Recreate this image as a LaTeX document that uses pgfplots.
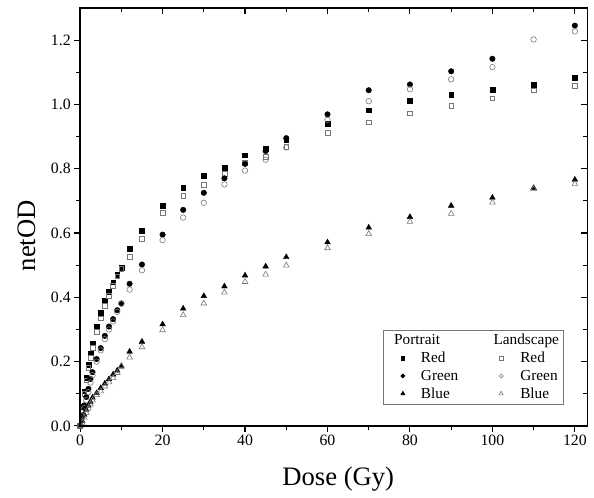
\documentclass[border=0pt]{standalone}
\usepackage{fontspec}
\setmainfont{Liberation Serif}
\usepackage{pgfplots}
\usepackage{pgfplotstable}
\pgfplotsset{compat=1.18}
\pgfplotsset{
  lleg/.style={legend image code/.code={\draw[##1,mark size=#1] plot coordinates {(0bp,0bp)};}},
  pleg/.style={legend image code/.code={\path (-16bp,0bp); \draw[##1,mark size=#1] plot coordinates {(0bp,0bp)};}},
}
\pgfplotstableread{
dose RP RL GP GL BP BL
0 0.000 0.000 0.000 0.000 0.000 0.000
0.5 0.060 0.050 0.030 0.025 0.015 0.010
1 0.108 0.100 0.064 0.055 0.035 0.026
1.5 0.151 0.142 0.090 0.080 0.050 0.041
2 0.191 0.180 0.115 0.105 0.063 0.054
2.5 0.226 0.213 0.146 0.135 0.075 0.067
3 0.257 0.242 0.167 0.158 0.088 0.080
4 0.309 0.292 0.208 0.200 0.102 0.096
5 0.352 0.335 0.242 0.235 0.118 0.108
6 0.389 0.374 0.280 0.270 0.132 0.123
7 0.418 0.404 0.309 0.300 0.145 0.136
8 0.447 0.436 0.332 0.325 0.160 0.149
9 0.470 0.465 0.360 0.355 0.172 0.165
10 0.492 0.489 0.381 0.380 0.185 0.187
12 0.550 0.527 0.442 0.424 0.231 0.213
15 0.607 0.583 0.502 0.484 0.262 0.245
20 0.684 0.664 0.595 0.578 0.316 0.298
25 0.741 0.715 0.672 0.648 0.365 0.345
30 0.779 0.749 0.725 0.694 0.404 0.381
35 0.802 0.785 0.770 0.751 0.434 0.415
40 0.842 0.818 0.815 0.794 0.468 0.448
45 0.862 0.838 0.855 0.828 0.496 0.471
50 0.890 0.868 0.895 0.866 0.525 0.499
60 0.941 0.912 0.969 0.952 0.571 0.553
70 0.982 0.944 1.044 1.010 0.617 0.597
80 1.011 0.972 1.062 1.047 0.650 0.635
90 1.029 0.996 1.103 1.078 0.685 0.660
100 1.046 1.019 1.142 1.116 0.710 0.695
110 1.062 1.044 nan 1.202 0.740 0.737
120 1.083 1.058 1.245 1.227 0.766 0.753
}\datatable
\definecolor{lgray}{RGB}{120,120,120}
\begin{document}
\begin{tikzpicture}
\begin{axis}[
  scale only axis,
  width=512bp, height=422bp,
  xmin=0, xmax=123, ymin=0, ymax=1.3,
  clip=false,
  axis line style={line width=1.3bp},
  tick style={line width=1.1bp, black},
  major tick length=6bp, minor tick length=4bp,
  tick align=outside,
  xtick pos=left, ytick pos=left,
  xtick={0,20,...,120}, ytick={0,0.2,...,1.2},
  minor x tick num=1, minor y tick num=1,
  /pgf/number format/assume math mode=true,
  xticklabel={\pgfmathprintnumber{\tick}},
  yticklabel={\pgfmathprintnumber[fixed,fixed zerofill,precision=1]{\tick}},
  tick label style={font=\fontsize{16}{18}\selectfont},
  xlabel={Dose (Gy)}, ylabel={netOD},
  xlabel style={font=\fontsize{27}{30}\selectfont, at={(axis description cs:0.509,-0.128)}, anchor=center},
  ylabel style={font=\fontsize{27}{30}\selectfont, at={(axis description cs:-0.105,0.455)}, anchor=center},
  legend columns=2,
  legend cell align=left,
  legend style={at={(axis description cs:0.953,0.052)}, anchor=south east,
    draw=lgray, line width=0.6bp, inner xsep=3bp, inner ysep=3bp,
    font=\fontsize{15.5}{17}\selectfont,
    nodes={inner sep=1.2bp},
    row sep=3.5bp,
    /tikz/column 1/.style={column sep=15bp},
    /tikz/column 2/.style={column sep=40bp},
    /tikz/column 3/.style={column sep=16bp}},
]
\path (axis description cs:-0.158,-0.1706) (axis description cs:1.002,1.019);
\addlegendimage{empty legend}
\addlegendentry{\hspace*{-27bp}Portrait}
\addlegendimage{empty legend}
\addlegendentry{\hspace*{-27bp}Landscape}
\addplot[only marks, mark=square*, mark size=2.4bp, black, pleg=1.8bp]
  table[x=dose,y=RP]{\datatable};
\addlegendentry{Red}
\addplot[only marks, mark=square, mark size=2.4bp, lgray, mark options={fill=white, line width=0.6bp}, lleg=1.8bp]
  table[x=dose,y=RL]{\datatable};
\addlegendentry{Red}
\addplot[only marks, mark=*, mark size=2.8bp, black, pleg=2bp]
  table[x=dose,y=GP]{\datatable};
\addlegendentry{Green}
\addplot[only marks, mark=o, mark size=2.8bp, lgray, mark options={fill=white, line width=0.6bp}, lleg=2bp]
  table[x=dose,y=GL]{\datatable};
\addlegendentry{Green}
\addplot[only marks, mark=triangle*, mark size=3.3bp, black, pleg=2.4bp]
  table[x=dose,y=BP]{\datatable};
\addlegendentry{Blue}
\addplot[only marks, mark=triangle, mark size=3.3bp, lgray, mark options={fill=white, line width=0.6bp}, lleg=2.4bp]
  table[x=dose,y=BL]{\datatable};
\addlegendentry{Blue}
\end{axis}
\begin{axis}[
  scale only axis,
  width=512bp, height=422bp,
  xmin=0, xmax=123, ymin=0, ymax=1.3,
  axis line style={line width=1.3bp},
  tick style={line width=1.1bp, black},
  major tick length=6bp, minor tick length=4bp,
  tick align=inside,
  xtick pos=right, ytick pos=right,
  xtick={0,20,...,120}, ytick={0,0.2,...,1.2},
  minor x tick num=1, minor y tick num=1,
  xticklabels={}, yticklabels={},
]
\end{axis}
\end{tikzpicture}
\end{document}
